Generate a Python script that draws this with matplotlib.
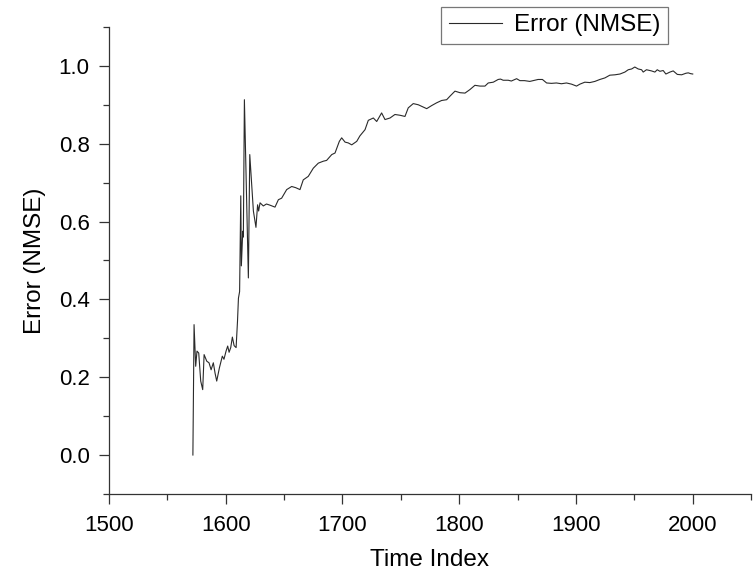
import matplotlib
matplotlib.use('Agg')
import matplotlib.pyplot as plt
from matplotlib.ticker import MultipleLocator

# CONFIGS
time_index = [
    1572, 1573, 1574.4, 1575.5, 1577, 1578.7, 1580.4, 1581.6, 1583.9, 1585.8,
    1587.6, 1589.5, 1591, 1592.4, 1594.7, 1596.1, 1597.2, 1598.6, 1600.4, 1601.8,
    1603, 1604.4, 1605.8, 1607.3, 1609, 1610.2, 1611, 1612, 1613, 1613.5,
    1614.7, 1615.2, 1616.1, 1619.5, 1620.7, 1623.8, 1626, 1627.4, 1628.3, 1629.5,
    1632.3, 1635, 1638, 1642.3, 1645.2, 1648, 1652.3, 1656.6, 1660, 1663.7,
    1666.5, 1670.8, 1675.1, 1679.4, 1683.7, 1686.5, 1690.9, 1693.7, 1697.4, 1699.4,
    1702.3, 1705, 1708, 1712.3, 1715, 1719.4, 1722.2, 1726.5, 1729.4, 1733.6,
    1736.5, 1740.8, 1745, 1749.4, 1753.6, 1756.4, 1760.7, 1765, 1769.3, 1772.2,
    1776.5, 1780.7, 1785, 1789.3, 1792.1, 1796.4, 1800.7, 1805, 1809.2, 1813.5,
    1817.8, 1822.1, 1824.9, 1829.2, 1833.4, 1835.4, 1837.7, 1842, 1844.7, 1849.2,
    1852, 1856, 1860.5, 1863.3, 1867.6, 1871.3, 1874.9, 1879, 1883.3, 1887.6,
    1891.9, 1896.2, 1900.5, 1903.4, 1907.6, 1911.9, 1916.2, 1920.5, 1924.8, 1929,
    1933.4, 1937.7, 1941.9, 1944.8, 1947.7, 1950.4, 1953.3, 1956.2, 1957.6, 1960.4,
    1964.7, 1967.6, 1969.6, 1971.9, 1974.7, 1977, 1980.5, 1983.3, 1986.8, 1990.5,
    1994.2, 1996.2, 1998.1, 2000,
]
nmse = [
    0.0, 0.335, 0.228, 0.267, 0.262, 0.19, 0.168, 0.258, 0.241, 0.237,
    0.219, 0.237, 0.21, 0.19, 0.224, 0.241, 0.254, 0.246, 0.267, 0.28,
    0.264, 0.276, 0.303, 0.281, 0.276, 0.344, 0.403, 0.42, 0.666, 0.486,
    0.575, 0.56, 0.913, 0.455, 0.772, 0.627, 0.585, 0.643, 0.627, 0.648,
    0.64, 0.645, 0.642, 0.637, 0.656, 0.66, 0.682, 0.69, 0.687, 0.682,
    0.707, 0.716, 0.737, 0.75, 0.755, 0.757, 0.772, 0.776, 0.806, 0.815,
    0.804, 0.802, 0.797, 0.806, 0.82, 0.836, 0.86, 0.866, 0.857, 0.879,
    0.862, 0.866, 0.875, 0.873, 0.87, 0.892, 0.903, 0.9, 0.894, 0.89,
    0.898, 0.905, 0.911, 0.913, 0.922, 0.935, 0.931, 0.93, 0.939, 0.95,
    0.948, 0.948, 0.956, 0.958, 0.965, 0.966, 0.963, 0.963, 0.961, 0.967,
    0.962, 0.962, 0.96, 0.962, 0.965, 0.965, 0.956, 0.955, 0.956, 0.954,
    0.956, 0.953, 0.948, 0.953, 0.958, 0.957, 0.96, 0.965, 0.969, 0.976,
    0.977, 0.979, 0.984, 0.99, 0.992, 0.997, 0.992, 0.99, 0.984, 0.99,
    0.987, 0.984, 0.99, 0.986, 0.988, 0.979, 0.984, 0.987, 0.978, 0.977,
    0.981, 0.982, 0.98, 0.979,
]
series_label = 'Error (NMSE)'
x_label = 'Time Index'
y_label = 'Error (NMSE)'
plot_name = 'out.png'
# CONFIG END

plt.rcParams['font.family'] = ['Liberation Sans', 'DejaVu Sans']

fig = plt.figure(figsize=(7.53, 5.73), dpi=100)
ax = fig.add_axes([0.1445, 0.138, 0.853, 0.815])

ax.plot(time_index, nmse, color='#2a2a2a', linewidth=0.8, label=series_label)

ax.set_xlim(1500, 2050)
ax.set_ylim(-0.1, 1.1)
ax.xaxis.set_major_locator(MultipleLocator(100))
ax.xaxis.set_minor_locator(MultipleLocator(50))
ax.yaxis.set_major_locator(MultipleLocator(0.2))
ax.yaxis.set_minor_locator(MultipleLocator(0.1))
ax.yaxis.set_major_formatter(plt.FormatStrFormatter('%.1f'))

for side in ['top', 'right']:
    ax.spines[side].set_visible(False)
for side in ['left', 'bottom']:
    ax.spines[side].set_linewidth(0.9)
    ax.spines[side].set_color('#333333')

ax.tick_params(which='major', length=7.3, width=0.9, color='#333333',
               labelsize=16)
ax.tick_params(which='minor', length=4.5, width=0.9, color='#333333')
ax.tick_params(axis='x', which='major', pad=8)
ax.tick_params(axis='y', which='major', pad=6.5)

ax.set_xlabel(x_label, fontsize=17.5, labelpad=9)
ax.set_ylabel(y_label, fontsize=17.5, labelpad=9)

leg = ax.legend(loc='upper right', bbox_to_anchor=(668 / 753, 1 - 7 / 573),
                bbox_transform=fig.transFigure, borderaxespad=0,
                fancybox=False, frameon=True, fontsize=17.5, handlelength=2.2,
                borderpad=0.3, handletextpad=0.5)
leg.get_frame().set_edgecolor('#555555')
leg.get_frame().set_linewidth(0.9)

plt.savefig(plot_name, dpi=100)
